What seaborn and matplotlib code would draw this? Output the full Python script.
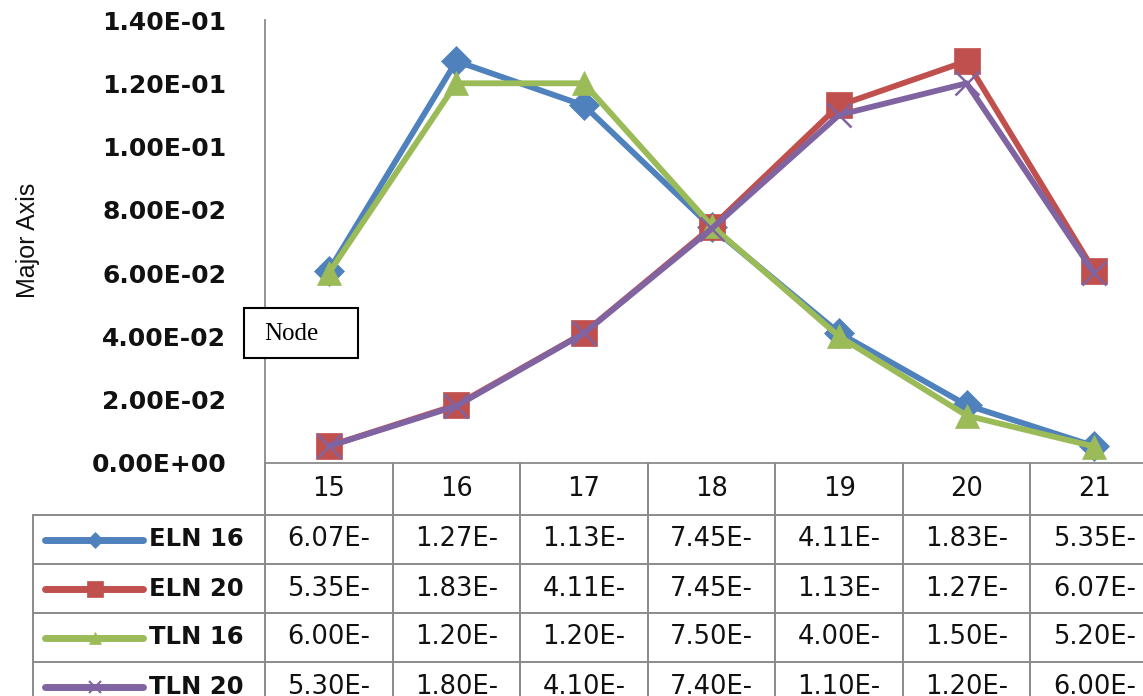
import numpy as np
import pandas as pd
import seaborn as sns
import matplotlib
matplotlib.use("Agg")
import matplotlib.pyplot as plt
from matplotlib.transforms import blended_transform_factory
from matplotlib.lines import Line2D
from matplotlib.patches import Rectangle
from matplotlib.ticker import FuncFormatter

# ---------------- data ----------------
categories = [15, 16, 17, 18, 19, 20, 21]
series_names = ["ELN 16", "ELN 20", "TLN 16", "TLN 20"]
eln16 = [6.07e-02, 1.27e-01, 1.13e-01, 7.45e-02, 4.11e-02, 1.83e-02, 5.35e-03]
eln20 = [5.35e-03, 1.83e-02, 4.11e-02, 7.45e-02, 1.13e-01, 1.27e-01, 6.07e-02]
tln16 = [6.00e-02, 1.20e-01, 1.20e-01, 7.50e-02, 4.00e-02, 1.50e-02, 5.20e-03]
tln20 = [5.30e-03, 1.80e-02, 4.10e-02, 7.40e-02, 1.10e-01, 1.20e-01, 6.00e-02]
yticks = [0.0, 0.02, 0.04, 0.06, 0.08, 0.10, 0.12, 0.14]
all_values = [eln16, eln20, tln16, tln20]

# ---------------- styles ----------------
colors = ["#4F81BD", "#C0504D", "#9BBB59", "#8064A2"]
markers = ["D", "s", "^", "x"]
msizes = [15, 19, 17, 17]
legend_msizes = [8, 11, 9, 9]

sns.set_theme(style="white")
plt.rcParams['font.family'] = ['DejaVu Sans']

W, H = 1143, 696
fig = plt.figure(figsize=(W / 100, H / 100), dpi=100)
fig.patch.set_facecolor("white")

def px_rect(x0, y0, x1, y1):
    return [x0 / W, 1 - y1 / H, (x1 - x0) / W, (y1 - y0) / H]

ax_left, ax_top, ax_right, ax_bottom = 265, 20, 1158, 463
ax = fig.add_axes(px_rect(ax_left, ax_top, ax_right, ax_bottom))
ax.set_facecolor("white")

df = pd.DataFrame({
    "node": np.tile(categories, len(series_names)),
    "value": np.concatenate(all_values),
    "series": np.repeat(series_names, len(categories)),
})

for name, col, mk, ms in zip(series_names, colors, markers, msizes):
    sub = df[df["series"] == name]
    sns.lineplot(data=sub, x="node", y="value", ax=ax, color=col, marker=mk,
                 markersize=ms, linewidth=4.2, markeredgecolor=col,
                 markeredgewidth=1.8 if mk == "x" else 0.5,
                 legend=False, errorbar=None, sort=False)

ax.set_xlim(categories[0] - 0.5, categories[-1] + 0.5)
ax.set_ylim(yticks[0], yticks[-1])
ax.set_yticks(yticks)
ax.yaxis.set_major_formatter(FuncFormatter(lambda v, p: f"{v:.2E}"))
ax.set_xticks([])
ax.set_xlabel("")
ax.tick_params(axis="y", length=0, pad=28, labelsize=18, labelcolor="#111111")
for lab in ax.get_yticklabels():
    lab.set_fontweight("bold")
for s in ["top", "right"]:
    ax.spines[s].set_visible(False)
for s in ["left", "bottom"]:
    ax.spines[s].set_color("#8a8a8a")
    ax.spines[s].set_linewidth(1.3)

ax.set_ylabel("Major Axis", fontsize=18, color="#111111",
              family=['Liberation Sans Narrow', 'Liberation Sans', 'DejaVu Sans'])
ax.yaxis.set_label_coords((40 - ax_left) / (ax_right - ax_left), 0.503)

# ---------------- data table ----------------
trans = blended_transform_factory(ax.transData, ax.transAxes)
col_w = (ax_right - ax_left) / len(categories)

def fy(y):
    return (ax_bottom - y) / (ax_bottom - ax_top)

def fx(x):
    return categories[0] - 0.5 + (x - ax_left) / col_w

row_bounds = [463, 515, 564, 613, 662, 711]
grid_kw = dict(color="#8a8a8a", linewidth=1.4, transform=trans, clip_on=False)
x_right = categories[-1] + 0.5
x_leftcol = fx(33)

for yb in row_bounds[1:]:
    ax.add_line(Line2D([x_leftcol, x_right], [fy(yb), fy(yb)], **grid_kw))
for k in range(len(categories) + 1):
    xv = categories[0] - 0.5 + k
    ax.add_line(Line2D([xv, xv], [fy(row_bounds[0]), fy(row_bounds[-1])], **grid_kw))
ax.add_line(Line2D([x_leftcol, x_leftcol], [fy(row_bounds[1]), fy(row_bounds[-1])], **grid_kw))

# header row
yc = fy((row_bounds[0] + row_bounds[1]) / 2)
for c in categories:
    ax.text(c, yc, str(c), transform=trans, ha="center", va="center",
            fontsize=18.5, color="#111111", clip_on=False)

# series rows
for i, (name, vals, col, mk, lms) in enumerate(zip(series_names, all_values, colors, markers, legend_msizes)):
    yc = fy((row_bounds[i + 1] + row_bounds[i + 2]) / 2)
    for c, v in zip(categories, vals):
        ax.text(c, yc, f"{v:.2E}"[:6], transform=trans, ha="center", va="center",
                fontsize=18.5, color="#111111", clip_on=False)
    ax.add_line(Line2D([fx(45), fx(143)], [yc, yc], color=col, linewidth=5,
                       solid_capstyle="round", transform=trans, clip_on=False))
    ax.add_line(Line2D([fx(95)], [yc], color=col, marker=mk, markersize=lms,
                       markeredgecolor=col, markeredgewidth=1.5 if mk == "x" else 0.5,
                       linestyle="none", transform=trans, clip_on=False))
    ax.text(fx(149), yc, name, transform=trans, ha="left", va="center",
            fontsize=17.5, fontweight="bold", color="#111111", clip_on=False)

# ---------------- Node box ----------------
fig.add_artist(Rectangle((244 / W, 1 - 358 / H), 114 / W, 50 / H,
                         transform=fig.transFigure, facecolor="white",
                         edgecolor="black", linewidth=1.5, zorder=5))
fig.text(264 / W, 1 - 334 / H, "Node", family=['Liberation Serif', 'DejaVu Serif'],
         fontsize=18, va="center", ha="left", color="black", zorder=6)

fig.savefig("out.png", dpi=100, facecolor="white")
